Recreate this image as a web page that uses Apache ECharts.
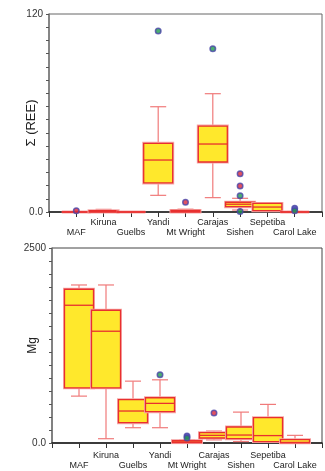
<!DOCTYPE html>
<html>
<head>
<meta charset="utf-8">
<script src="https://cdn.jsdelivr.net/npm/echarts@6/dist/echarts.min.js"></script>
<style>
html,body{margin:0;padding:0;background:#fff;}
#c{width:325px;height:471px;}
</style>
</head>
<body>
<div id="c"></div>
<script>
// ---- data ----
const categories = ['MAF','Kiruna','Guelbs','Yandi','Mt Wright','Carajas','Sishen','Sepetiba','Carol Lake'];

// [min, q1, median, q3, max]
const reeStats = [
  [0, 0, 0, 0, 0],
  [0, 0, 0.3, 0.8, 1.6],
  [0, 0, 0, 0, 0],
  [10.1, 17.6, 31.5, 41.6, 63.8],
  [0, 0, 0.4, 0.9, 1.7],
  [8.7, 30.3, 41.2, 52.1, 71.7],
  [1.2, 3.2, 4.7, 5.9, 8.3],
  [0.5, 0.8, 3.0, 5.2, 5.4],
  [0, 0, 0, 0, 0.3]
];
const reeOutlierCat  = ['MAF','Yandi','Mt Wright','Carajas','Sishen','Sishen','Sishen','Sishen','Carol Lake','Carol Lake'];
const reeOutlierVal  = [0.8, 109.7, 5.9, 99.0, 23.2, 15.8, 9.9, 0.3, 2.2, 0.8];
const reeOutlierKind = ['r','g','r','g','r','r','g','g','b','g'];

const mgStats = [
  [601, 708, 1766, 1971, 2026],
  [55, 708, 1433, 1702, 2026],
  [196, 260, 410, 555, 793],
  [196, 401, 508, 580, 810],
  [0, 5, 15, 30, 40],
  [40, 64, 98, 133, 153],
  [18, 56, 102, 205, 396],
  [8, 18, 95, 325, 495],
  [0, 3, 8, 43, 98]
];
const mgOutlierCat  = ['Yandi','Mt Wright','Mt Wright','Carajas'];
const mgOutlierVal  = [875, 90, 64, 384];
const mgOutlierKind = ['g','b','g','r'];

const reeTicks = [0, 120];
const mgTicks = [0, 2500];

// ---- build ----
const axisCats = [''].concat(categories, ['']);
const idx = name => axisCats.indexOf(name);
const kindColor = {g:'#1f9a4e', r:'#d8263a', b:'#3a3fb0'};

function boxData(stats){ return stats.map((s,i)=>[i+1].concat(s)); }
function outData(cats, vals, kinds){
  return cats.map((c,i)=>({value:[idx(c), vals[i]], itemStyle:{color:kindColor[kinds[i]]}}));
}

function renderBox(params, api){
  const i = api.value(0);
  const lo = api.coord([i, api.value(1)]);
  const q1 = api.coord([i, api.value(2)]);
  const md = api.coord([i, api.value(3)]);
  const q3 = api.coord([i, api.value(4)]);
  const hi = api.coord([i, api.value(5)]);
  const x = lo[0];
  const bw = 29, cw = 16;
  const wStyle = {stroke:'#f07a7a', lineWidth:1.2, fill:null};
  return {
    type:'group',
    children:[
      {type:'line', shape:{x1:x,y1:q3[1],x2:x,y2:hi[1]}, style:wStyle},
      {type:'line', shape:{x1:x,y1:q1[1],x2:x,y2:lo[1]}, style:wStyle},
      {type:'line', shape:{x1:x-cw/2,y1:hi[1],x2:x+cw/2,y2:hi[1]}, style:wStyle},
      {type:'line', shape:{x1:x-cw/2,y1:lo[1],x2:x+cw/2,y2:lo[1]}, style:wStyle},
      {type:'rect', shape:{x:x-bw/2,y:q3[1],width:bw,height:q1[1]-q3[1]},
        style:{fill:null, stroke:'#f6a8a8', lineWidth:3}},
      {type:'rect', shape:{x:x-bw/2,y:q3[1],width:bw,height:q1[1]-q3[1]},
        style:{fill:'#ffe82c', stroke:'#e8302f', lineWidth:1.3}},
      {type:'line', shape:{x1:x-bw/2,y1:md[1],x2:x+bw/2,y2:md[1]},
        style:{stroke:'#e8302f', lineWidth:1.3}}
    ]
  };
}

function xAxisCfg(gi, margin){
  return {
    type:'category', gridIndex:gi, data:axisCats, boundaryGap:false,
    axisLine:{lineStyle:{color:'#1a1a1a', width:1.5}},
    axisTick:{show:true, length:5, interval:0, lineStyle:{color:'#333'}},
    axisLabel:{interval:0, fontSize:9, color:'#222', lineHeight:10.5, margin:margin,
      fontFamily:'Liberation Sans, Arial, sans-serif',
      formatter:(v,i)=> (i%2===1 ? '\n'+v : v)},
    splitLine:{show:false}
  };
}
function yAxisCfg(gi, ticks, name, gap, pad, fs){
  const mx = ticks[ticks.length-1];
  return {
    type:'value', gridIndex:gi, min:ticks[0], max:mx, interval:mx-ticks[0],
    name:name, nameLocation:'middle', nameGap:gap, nameMoveOverlap:false,
    nameTextStyle:{fontSize:fs, color:'#222', fontFamily:'Liberation Sans, Arial, sans-serif', padding:pad},
    axisLine:{show:true, lineStyle:{color:'#777', width:1.5}},
    axisTick:{show:true, length:3, lineStyle:{color:'#555'}},
    minorTick:{show:true, splitNumber:15, length:3, lineStyle:{color:'#555'}},
    splitLine:{show:false}, minorSplitLine:{show:false},
    axisLabel:{fontSize:10, color:'#333', margin:6, fontFamily:'Liberation Sans, Arial, sans-serif',
      formatter:v=> v===0 ? '0.0' : String(v)}
  };
}

const chart = echarts.init(document.getElementById('c'), null, {renderer:'canvas'});
chart.setOption({
  animation:false,
  backgroundColor:'#fff',
  grid:[
    {left:49, top:14, width:274, height:198, show:true, borderColor:'#666', borderWidth:1},
    {left:52, top:248, width:271, height:196, show:true, borderColor:'#444', borderWidth:1}
  ],
  xAxis:[xAxisCfg(0,5), xAxisCfg(1,7)],
  yAxis:[yAxisCfg(0, reeTicks, 'Σ (REE)', 11, [0,20,0,0], 13),
         yAxisCfg(1, mgTicks, 'Mg', 13, [0,0,0,0], 12)],
  series:[
    {type:'custom', xAxisIndex:0, yAxisIndex:0, data:boxData(reeStats), renderItem:renderBox,
      encode:{x:0, y:[1,2,3,4,5]}},
    {type:'custom', xAxisIndex:1, yAxisIndex:1, data:boxData(mgStats), renderItem:renderBox,
      encode:{x:0, y:[1,2,3,4,5]}},
    {type:'scatter', xAxisIndex:0, yAxisIndex:0, symbol:'circle', symbolSize:5.5,
      itemStyle:{borderColor:'#4a45a8', borderWidth:1.5},
      data:outData(reeOutlierCat, reeOutlierVal, reeOutlierKind)},
    {type:'scatter', xAxisIndex:1, yAxisIndex:1, symbol:'circle', symbolSize:5.5,
      itemStyle:{borderColor:'#4a45a8', borderWidth:1.5},
      data:outData(mgOutlierCat, mgOutlierVal, mgOutlierKind)}
  ]
});
</script>
</body>
</html>
